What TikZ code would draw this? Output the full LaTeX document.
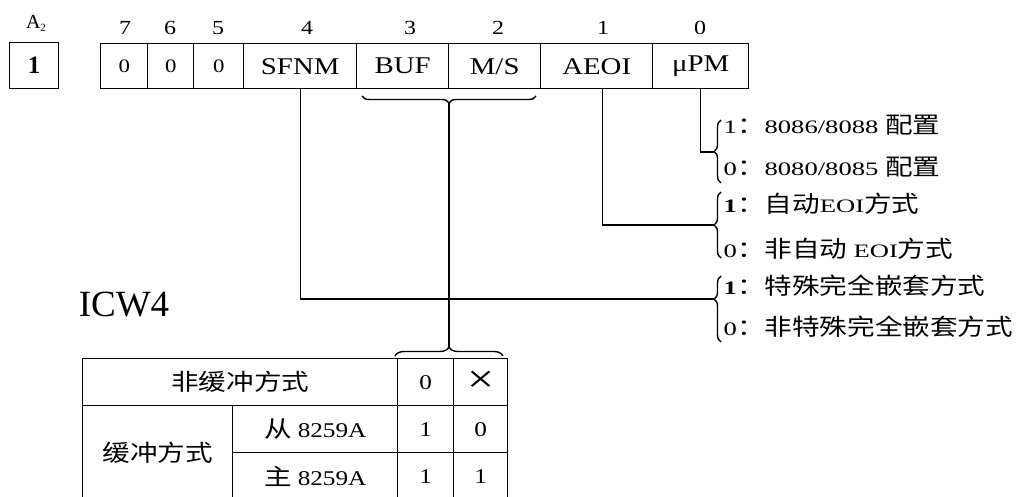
\documentclass[tikz,border=0pt]{standalone}
\usepackage{graphicx}
\usepackage{fontspec}
\setmainfont{Liberation Serif}
\newfontfamily\regfont{Liberation Serif}[FakeStretch=1.2]
\newfontfamily\dgfont{Liberation Serif}[FakeStretch=1.4]
\newfontfamily\cjfont{Noto Sans CJK SC}[FakeStretch=1.2]
\newcommand\dgt[1]{{\dgfont\fontsize{19}{19}\selectfont #1}}
\newcommand\cjt[1]{{\cjfont\fontsize{23}{23}\selectfont #1}}
\newcommand\tdg[1]{{\regfont\fontsize{21}{21}\selectfont #1}}
\usetikzlibrary{decorations.pathreplacing}
\begin{document}
\begin{tikzpicture}[x=1pt,y=-1pt,line width=1.4pt,
  cell/.style={draw,minimum height=45pt,inner sep=0pt,anchor=north west,font=\regfont\fontsize{24}{24}\selectfont},
  zcell/.style={cell,font=\regfont\fontsize{19}{19}\selectfont},
  bitnum/.style={inner sep=0pt,font=\regfont\fontsize{20}{20}\selectfont},
  lbl/.style={anchor=west,inner sep=0pt},
  tcell/.style={draw,inner sep=0pt,anchor=north west},
  brc/.style={decorate,decoration={brace,amplitude=7pt}}]
\useasboundingbox (0,0) rectangle (1024,497);
\fill[white] (0,0) rectangle (1024,497);

% A2 box
\node[inner sep=0pt,font=\fontsize{20}{20}\selectfont] (a2) at (36,23) {A\raisebox{-3pt}{\fontsize{11}{11}\selectfont 2}};
\node[draw,minimum width=49pt,minimum height=46pt,inner sep=0pt,anchor=north west] (a2box) at (9,42) {\fontsize{25}{25}\selectfont\bfseries 1};

% register cells
\node[zcell,minimum width=47pt] (c7) at (100,43) {0};
\node[zcell,minimum width=46pt] (c6) at (147,43) {0};
\node[zcell,minimum width=50pt] (c5) at (193,43) {0};
\node[cell,minimum width=113pt] (c4) at (243,43) {SFNM};
\node[cell,minimum width=92pt] (c3) at (356,43) {BUF};
\node[cell,minimum width=92pt] (c2) at (448,43) {M/S};
\node[cell,minimum width=112pt] (c1) at (540,43) {AEOI};
\node[cell,minimum width=96pt] (c0) at (652,43) {μPM};

% bit numbers
\node[bitnum] (n7) at (125,28) {7};
\node[bitnum] (n6) at (170,28) {6};
\node[bitnum] (n5) at (218,28) {5};
\node[bitnum] (n4) at (307,28) {4};
\node[bitnum] (n3) at (410,28) {3};
\node[bitnum] (n2) at (498,28) {2};
\node[bitnum] (n1) at (603,28) {1};
\node[bitnum] (n0) at (700,28) {0};

% right labels
\node[lbl] (p1) at (723,125) {\dgt{1}\cjt{：}\dgt{8086/8088 }\cjt{配置}};
\node[lbl] (p0) at (723,167) {\dgt{0}\cjt{：}\dgt{8080/8085 }\cjt{配置}};
\node[lbl] (e1) at (723,204) {\dgt{\bfseries 1}\cjt{：自动}\dgt{EOI}\cjt{方式}};
\node[lbl] (e0) at (723,249) {\dgt{0}\cjt{：非自动 }\dgt{EOI}\cjt{方式}};
\node[lbl] (s1) at (723,286) {\dgt{\bfseries 1}\cjt{：特殊完全嵌套方式}};
\node[lbl] (s0) at (723,327) {\dgt{0}\cjt{：非特殊完全嵌套方式}};

% braces on the right
\draw[brc] (721,183) -- (721,120);
\coordinate (tPM) at (714,152);
\draw[brc] (721,258) -- (721,192);
\coordinate (tAE) at (714,225);
\draw[brc,decoration={aspect=0.65}] (721,342) -- (721,276);
\coordinate (tSF) at (714,299);

% connectors from register
\draw (c0.south) |- (tPM);
\draw ([xshift=6pt]c1.south) |- (tAE);
\draw (c4.south) |- (tSF);

% brace under BUF / M/S
\draw[brc] (536,96) -- (362,96);
\coordinate (tBM) at (449,103);

% ICW4 title
\node[inner sep=0pt,font=\fontsize{37}{37}\selectfont] (icw) at (124,305) {ICW4};

% table
\node[tcell,minimum width=315pt,minimum height=47pt] (t11) at (82,358) {\cjt{非缓冲方式}};
\node[tcell,minimum width=56pt,minimum height=47pt] (t12) at (397,358) {\tdg{0}};
\node[tcell,minimum width=54pt,minimum height=47pt] (t13) at (453,358) {\scalebox{1.9}{\tdg{×}}};
\node[tcell,minimum width=150pt,minimum height=95pt] (t21) at (82,405) {\cjt{缓冲方式}};
\node[tcell,minimum width=165pt,minimum height=47pt] (t22) at (232,405) {\cjt{从 }\tdg{8259A}};
\node[tcell,minimum width=56pt,minimum height=47pt] (t23) at (397,405) {\tdg{1}};
\node[tcell,minimum width=54pt,minimum height=47pt] (t24) at (453,405) {\tdg{0}};
\node[tcell,minimum width=165pt,minimum height=48pt] (t32) at (232,452) {\cjt{主 }\tdg{8259A}};
\node[tcell,minimum width=56pt,minimum height=48pt] (t33) at (397,452) {\tdg{1}};
\node[tcell,minimum width=54pt,minimum height=48pt] (t34) at (453,452) {\tdg{1}};

% brace over table columns
\draw[brc,decoration={amplitude=9pt}] (395,356) -- (503,356);
\coordinate (tTB) at (449,347);
\draw (tBM) -- (tTB);
\end{tikzpicture}
\end{document}
